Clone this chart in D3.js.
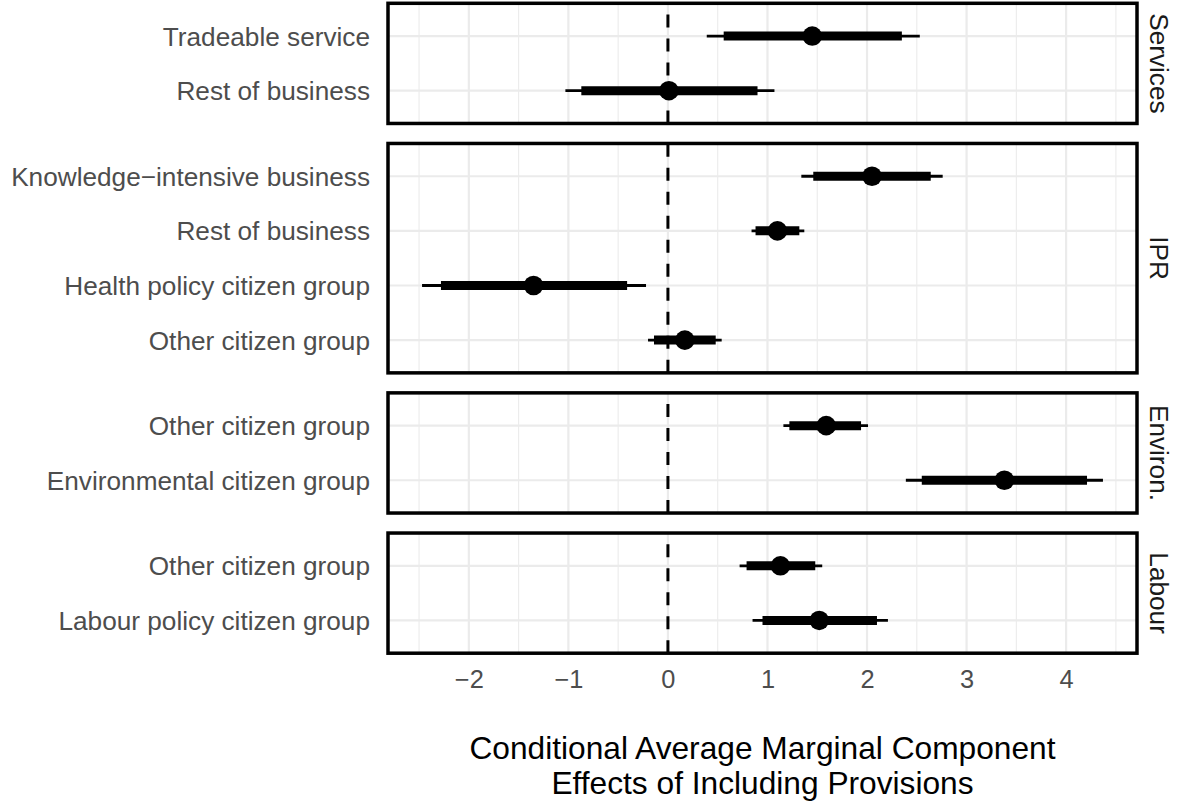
<!DOCTYPE html>
<html>
<head>
<meta charset="utf-8">
<script src="https://cdn.jsdelivr.net/npm/d3@7"></script>
<style>
  html, body { margin: 0; padding: 0; background: #ffffff; }
  svg { display: block; font-family: "Liberation Sans", Arial, Helvetica, sans-serif; }
</style>
</head>
<body>
<svg id="chart" width="1184" height="804"></svg>
<script>
// Facet panels, top to bottom
const panels = ["Services", "IPR", "Environ.", "Labour"];

// One entry per row: panel, label, point estimate, inner (thick) and outer (thin) intervals
const rowPanel  = ["Services", "Services", "IPR", "IPR", "IPR", "IPR", "Environ.", "Environ.", "Labour", "Labour"];
const rowLabel  = ["Tradeable service", "Rest of business",
                   "Knowledge\u2212intensive business", "Rest of business", "Health policy citizen group", "Other citizen group",
                   "Other citizen group", "Environmental citizen group",
                   "Other citizen group", "Labour policy citizen group"];
const estimate  = [1.45, 0.01, 2.05, 1.10, -1.35, 0.17, 1.59, 3.38, 1.13, 1.52];
const innerLow  = [0.56, -0.87, 1.46, 0.88, -2.28, -0.14, 1.22, 2.55, 0.79, 0.95];
const innerHigh = [2.35, 0.90, 2.64, 1.32, -0.41, 0.48, 1.94, 4.21, 1.48, 2.10];
const outerLow  = [0.39, -1.03, 1.34, 0.84, -2.47, -0.20, 1.16, 2.39, 0.72, 0.85];
const outerHigh = [2.53, 1.07, 2.76, 1.37, -0.22, 0.54, 2.01, 4.37, 1.55, 2.21];

const xTicks = [-2, -1, 0, 1, 2, 3, 4];
const xMinor = [-2.5, -1.5, -0.5, 0.5, 1.5, 2.5, 3.5, 4.5];
const xTitle = ["Conditional Average Marginal Component", "Effects of Including Provisions"];

const rows = rowLabel.map((label, i) => ({
  panel: rowPanel[i], label, est: estimate[i],
  lo1: innerLow[i], hi1: innerHigh[i], lo2: outerLow[i], hi2: outerHigh[i]
}));

const svg = d3.select("#chart");

// Layout
const plotLeft = 388, plotRight = 1137;
const plotTop = 3.3, plotBottom = 653.2;
const panelGap = 20;
const rowPad = 0.6;

// x scale: data range expanded by 5% on each side
const xmin = d3.min(outerLow), xmax = d3.max(outerHigh);
const ex = (xmax - xmin) * 0.05;
const x = d3.scaleLinear().domain([xmin - ex, xmax + ex]).range([plotLeft, plotRight]);

// Panel heights proportional to their number of rows (free y space)
const counts = panels.map(p => rows.filter(r => r.panel === p).length);
const units = counts.map(c => (c - 1) + 2 * rowPad);
const unitPx = (plotBottom - plotTop - panelGap * (panels.length - 1)) / d3.sum(units);

let yCursor = plotTop;
const panelBoxes = panels.map((p, i) => {
  const h = units[i] * unitPx;
  const box = { name: p, top: yCursor, bottom: yCursor + h };
  yCursor += h + panelGap;
  return box;
});

const labelColor = "#4d4d4d";
const gridColor = "#ebebeb";

panelBoxes.forEach(box => {
  const pRows = rows.filter(r => r.panel === box.name);
  const y = d3.scalePoint()
    .domain(pRows.map((r, i) => i))
    .range([box.top, box.bottom])
    .padding(rowPad);

  const g = svg.append("g");

  // minor vertical grid
  g.selectAll("line.minor").data(xMinor).join("line")
    .attr("x1", d => x(d)).attr("x2", d => x(d))
    .attr("y1", box.top).attr("y2", box.bottom)
    .attr("stroke", gridColor).attr("stroke-width", 1.1);

  // major vertical grid
  g.selectAll("line.major").data(xTicks).join("line")
    .attr("x1", d => x(d)).attr("x2", d => x(d))
    .attr("y1", box.top).attr("y2", box.bottom)
    .attr("stroke", gridColor).attr("stroke-width", 2.2);

  // horizontal grid at each row
  g.selectAll("line.hgrid").data(pRows).join("line")
    .attr("x1", plotLeft).attr("x2", plotRight)
    .attr("y1", (d, i) => y(i)).attr("y2", (d, i) => y(i))
    .attr("stroke", gridColor).attr("stroke-width", 2.2);

  // reference line at zero, dashed, drawn bottom to top
  g.append("line")
    .attr("x1", x(0)).attr("x2", x(0))
    .attr("y1", box.bottom).attr("y2", box.top)
    .attr("stroke", "#000").attr("stroke-width", 3)
    .attr("stroke-dasharray", "13,11");

  // outer intervals
  g.selectAll("line.outer").data(pRows).join("line")
    .attr("x1", d => x(d.lo2)).attr("x2", d => x(d.hi2))
    .attr("y1", (d, i) => y(i)).attr("y2", (d, i) => y(i))
    .attr("stroke", "#000").attr("stroke-width", 2.8);

  // inner intervals
  g.selectAll("line.inner").data(pRows).join("line")
    .attr("x1", d => x(d.lo1)).attr("x2", d => x(d.hi1))
    .attr("y1", (d, i) => y(i)).attr("y2", (d, i) => y(i))
    .attr("stroke", "#000").attr("stroke-width", 9);

  // point estimates
  g.selectAll("circle").data(pRows).join("circle")
    .attr("cx", d => x(d.est)).attr("cy", (d, i) => y(i))
    .attr("r", 9.8).attr("fill", "#000");

  // row labels
  g.selectAll("text.ylab").data(pRows).join("text")
    .attr("x", 370).attr("y", (d, i) => y(i))
    .attr("dy", "0.36em")
    .attr("text-anchor", "end")
    .attr("font-size", 26.2)
    .attr("fill", labelColor)
    .text(d => d.label);

  // panel border
  g.append("rect")
    .attr("x", plotLeft).attr("y", box.top)
    .attr("width", plotRight - plotLeft).attr("height", box.bottom - box.top)
    .attr("fill", "none").attr("stroke", "#000").attr("stroke-width", 3.5);

  // strip label on the right
  const cy = (box.top + box.bottom) / 2;
  g.append("text")
    .attr("transform", `translate(1159,${cy}) rotate(90)`)
    .attr("text-anchor", "middle")
    .attr("dy", "0.36em")
    .attr("font-size", 26.2)
    .attr("fill", "#1a1a1a")
    .text(box.name);
});

// x axis tick labels
const xAxis = d3.axisBottom(x).tickValues(xTicks).tickSize(0).tickPadding(0);
const axG = svg.append("g").attr("transform", `translate(0,${plotBottom})`).call(xAxis);
axG.select(".domain").remove();
axG.selectAll("text")
  .attr("y", 35).attr("dy", 0)
  .attr("font-size", 25.4)
  .attr("font-family", "Liberation Sans, Arial, sans-serif")
  .attr("fill", labelColor);

// x axis title
const cx = (plotLeft + plotRight) / 2;
svg.append("text")
  .attr("x", cx).attr("y", 759)
  .attr("text-anchor", "middle")
  .attr("font-size", 31.7)
  .attr("fill", "#000")
  .selectAll("tspan").data(xTitle).join("tspan")
  .attr("x", cx)
  .attr("dy", (d, i) => i === 0 ? 0 : 35)
  .text(d => d);
</script>
</body>
</html>
